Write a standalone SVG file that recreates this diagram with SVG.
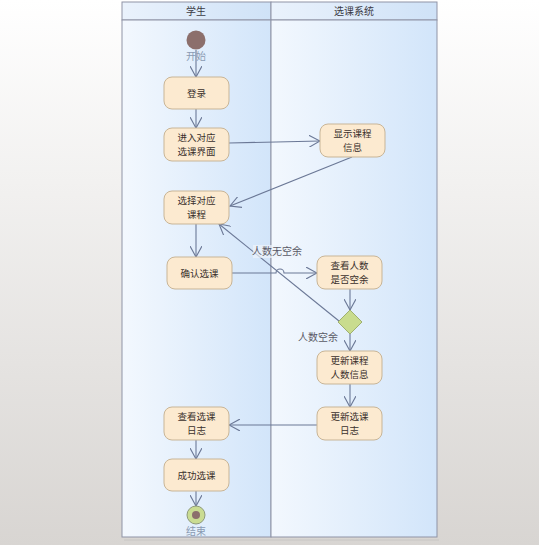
<svg xmlns="http://www.w3.org/2000/svg" width="539" height="545" viewBox="0 0 539 545">
  <defs>
    <linearGradient id="bg" x1="0" y1="0" x2="0" y2="1">
      <stop offset="0" stop-color="#ffffff"/>
      <stop offset="1" stop-color="#d8d5d2"/>
    </linearGradient>
    <linearGradient id="lane" x1="0" y1="0" x2="1" y2="0">
      <stop offset="0" stop-color="#f3f8fe"/>
      <stop offset="1" stop-color="#d2e5fa"/>
    </linearGradient>
    <linearGradient id="head" x1="0" y1="0" x2="1" y2="0">
      <stop offset="0" stop-color="#eaf2fc"/>
      <stop offset="1" stop-color="#cfe2f7"/>
    </linearGradient>
    <marker id="arr" viewBox="0 0 12 12" refX="11" refY="6" markerWidth="12" markerHeight="12" markerUnits="userSpaceOnUse" orient="auto">
      <path d="M0,0 L11,6 L0,12" fill="none" stroke="#6b7896" stroke-width="1.1"/>
    </marker>
    <style>
      .lane { stroke: #8f93a6; stroke-width: 1; }
      .act rect { fill: #fcead0; stroke: #c8b597; stroke-width: 1; }
      .t { font-family: "Noto Sans CJK SC", "Noto Sans", sans-serif; font-size: 9.5px; fill: #3a302c; text-anchor: middle; }
      .hd { font-family: "Noto Sans CJK SC", "Noto Sans", sans-serif; font-size: 10px; fill: #3a3a44; text-anchor: middle; }
      .lbl { font-family: "Noto Sans CJK SC", "Noto Sans", sans-serif; font-size: 10px; fill: #5a5a66; text-anchor: middle; }
      .pt { font-family: "Noto Sans CJK SC", "Noto Sans", sans-serif; font-size: 10px; fill: #8a9ab2; text-anchor: middle; }
      .c { fill: none; stroke: #6b7896; stroke-width: 1.1; marker-end: url(#arr); }
    </style>
  </defs>

  <!-- page background -->
  <rect x="0" y="0" width="539" height="545" fill="url(#bg)"/>

  <!-- swimlanes -->
  <g id="lanes">
    <line x1="124" y1="540" x2="439" y2="540" stroke="#c8c6c4" stroke-width="1"/>
    <rect x="122" y="2" width="149" height="18" fill="url(#head)" class="lane"/>
    <rect x="271" y="2" width="166" height="18" fill="url(#head)" class="lane"/>
    <rect x="122" y="20" width="149" height="517" fill="url(#lane)" class="lane"/>
    <rect x="271" y="20" width="166" height="517" fill="url(#lane)" class="lane"/>
    <text class="hd" x="196" y="15">学生</text>
    <text class="hd" x="354" y="15">选课系统</text>
  </g>

  <!-- connectors -->
  <g id="connectors">
    <path class="c" d="M196,50 L196,77"/>
    <path class="c" d="M196,109 L196,128"/>
    <path class="c" d="M229,143 L320,141"/>
    <path class="c" d="M352,157 L230,206"/>
    <path class="c" d="M196,224 L196,257"/>
    <path class="c" d="M232,273 L276,273 A4,4 0 0 1 284,273 L317,273"/>
    <path class="c" d="M339,321 L219,224"/>
    <path class="c" d="M350,289 L350,310"/>
    <path class="c" d="M350,334 L350,351"/>
    <path class="c" d="M350,384 L350,407"/>
    <path class="c" d="M317,425 L229,425"/>
    <path class="c" d="M196,440 L196,459"/>
    <path class="c" d="M196,491 L196,506"/>
    <rect x="253" y="245" width="48" height="13" fill="#eef4fb" opacity="0.7"/>
    <text class="lbl" x="277" y="255">人数无空余</text>
    <text class="lbl" x="318" y="341">人数空余</text>
  </g>

  <!-- nodes -->
  <g id="start">
    <circle cx="196" cy="40" r="9.5" fill="#8c6f6c"/>
    <text class="pt" x="196" y="60">开始</text>
  </g>
  <g id="login" class="act">
    <rect x="164" y="77" width="65" height="32" rx="8"/>
    <text class="t" x="196.5" y="97">登录</text>
  </g>
  <g id="enter" class="act">
    <rect x="164" y="128" width="65" height="33" rx="8"/>
    <text class="t" x="196.5" y="141">进入对应</text>
    <text class="t" x="196.5" y="155">选课界面</text>
  </g>
  <g id="show" class="act">
    <rect x="320" y="124" width="65" height="33" rx="8"/>
    <text class="t" x="352.5" y="137">显示课程</text>
    <text class="t" x="352.5" y="151">信息</text>
  </g>
  <g id="select" class="act">
    <rect x="164" y="191" width="65" height="33" rx="8"/>
    <text class="t" x="196.5" y="204">选择对应</text>
    <text class="t" x="196.5" y="218">课程</text>
  </g>
  <g id="confirm" class="act">
    <rect x="167" y="257" width="65" height="32" rx="8"/>
    <text class="t" x="199.5" y="277">确认选课</text>
  </g>
  <g id="check" class="act">
    <rect x="317" y="256" width="65" height="33" rx="8"/>
    <text class="t" x="349.5" y="269">查看人数</text>
    <text class="t" x="349.5" y="283">是否空余</text>
  </g>
  <g id="decision">
    <path d="M350,310 L362,322 L350,334 L338,322 Z" fill="#c9dc8e" stroke="#9fb070" stroke-width="1"/>
  </g>
  <g id="updateCount" class="act">
    <rect x="317" y="351" width="65" height="33" rx="8"/>
    <text class="t" x="349.5" y="364">更新课程</text>
    <text class="t" x="349.5" y="378">人数信息</text>
  </g>
  <g id="updateLog" class="act">
    <rect x="317" y="407" width="65" height="33" rx="8"/>
    <text class="t" x="349.5" y="420">更新选课</text>
    <text class="t" x="349.5" y="434">日志</text>
  </g>
  <g id="viewLog" class="act">
    <rect x="164" y="407" width="65" height="33" rx="8"/>
    <text class="t" x="196.5" y="420">查看选课</text>
    <text class="t" x="196.5" y="434">日志</text>
  </g>
  <g id="success" class="act">
    <rect x="164" y="459" width="65" height="32" rx="8"/>
    <text class="t" x="196.5" y="479">成功选课</text>
  </g>
  <g id="end">
    <circle cx="196" cy="515" r="9" fill="#cadc92" stroke="#8e9a7a" stroke-width="1"/>
    <circle cx="196" cy="515" r="4" fill="#8c6f6c"/>
    <text class="pt" x="196" y="535">结束</text>
  </g>
</svg>
